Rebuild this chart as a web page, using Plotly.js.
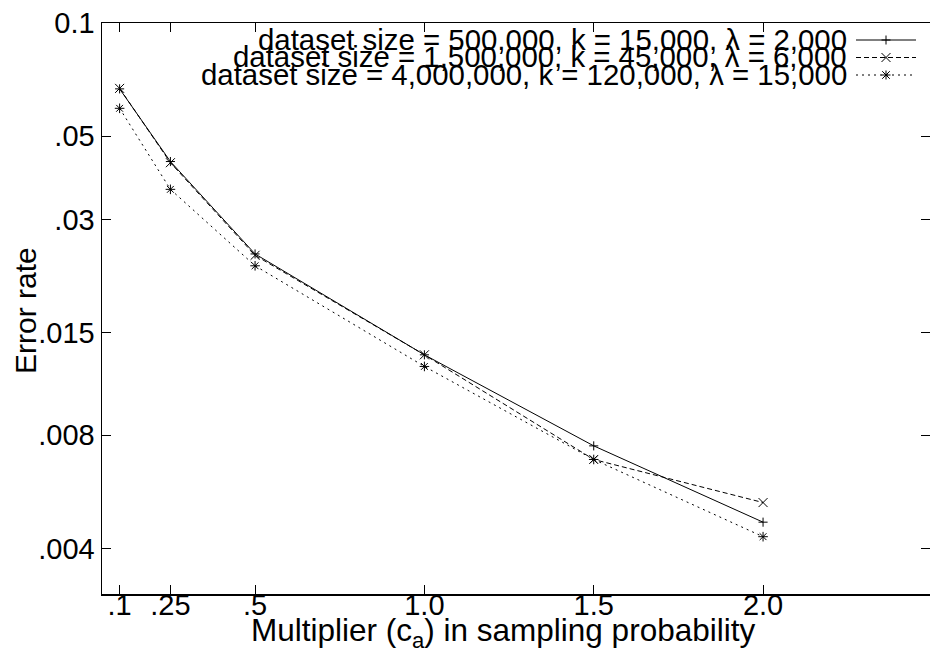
<!DOCTYPE html>
<html>
<head>
<meta charset="utf-8">
<script src="https://cdn.plot.ly/plotly-3.0.1.min.js"></script>
<style>
  html, body { margin: 0; padding: 0; background: #ffffff; }
  #chart { width: 930px; height: 660px; }
</style>
</head>
<body>
<div id="chart"></div>
<script>
// Sampling multiplier c_a on the x axis
const multipliers = [0.1, 0.25, 0.5, 1.0, 1.5, 2.0];

// Error rate for each dataset configuration
const errSmall  = [0.0668, 0.0428, 0.0243, 0.0131, 0.0075, 0.0047];
const errMedium = [0.0670, 0.0425, 0.0241, 0.0131, 0.0069, 0.0053];
const errLarge  = [0.0593, 0.0361, 0.0226, 0.0122, 0.0069, 0.0043];

const seriesNames = [
  'dataset size = 500,000, k = 15,000, \u03bb = 2,000',
  'dataset size = 1,500,000, k = 45,000, \u03bb = 6,000',
  'dataset size = 4,000,000, k = 120,000, \u03bb = 15,000'
];

const xTickVals = [0.1, 0.25, 0.5, 1.0, 1.5, 2.0];
const xTickText = ['.1', '.25', '.5', '1.0', '1.5', '2.0'];
const yTickVals = [0.1, 0.05, 0.03, 0.015, 0.008, 0.004];
const yTickText = ['0.1', '.05', '.03', '.015', '.008', '.004'];

const FONT = 'Liberation Sans, Arial, Helvetica, sans-serif';
const INK = '#000000';

// plot area geometry in pixels (used only for key and title placement)
const W = 930, H = 660;
const M = { l: 102, r: 0, t: 23, b: 66 };
const plotW = W - M.l - M.r, plotH = H - M.t - M.b;
const px2x = px => (px - M.l) / plotW;
const py2y = py => 1 - (py - M.t) / plotH;

const styles = [
  { dash: 'solid',   symbol: 'cross-thin', size: 6.5 },
  { dash: '5px,3px', symbol: 'x-thin',     size: 9 },
  { dash: '2px,4px', symbol: 'asterisk',   size: 8 }
];
const seriesValues = [errSmall, errMedium, errLarge];

const traces = seriesValues.map((vals, i) => ({
  type: 'scatter',
  mode: 'lines+markers',
  x: multipliers,
  y: vals,
  name: seriesNames[i],
  showlegend: false,
  line: { color: INK, width: 1, dash: styles[i].dash },
  marker: {
    symbol: styles[i].symbol,
    size: styles[i].size,
    color: INK,
    line: { color: INK, width: 1 }
  },
  hoverinfo: 'x+y'
}));

// key: text right-aligned, sample line with a marker to its right
const keyRowsPx = [40, 57.5, 75];
const keyLineX0 = px2x(856), keyLineX1 = px2x(916), keyMarkX = px2x(886);
const markPaths = [
  'M-4.5,0L4.5,0M0,-4.5L0,4.5',
  'M-4.5,-4.5L4.5,4.5M-4.5,4.5L4.5,-4.5',
  'M-4.5,0L4.5,0M0,-4.5L0,4.5M-3.8,-3.8L3.8,3.8M-3.8,3.8L3.8,-3.8'
];

const shapes = [];
const annotations = [];
keyRowsPx.forEach((py, i) => {
  const y = py2y(py);
  shapes.push({
    type: 'line', xref: 'paper', yref: 'paper',
    x0: keyLineX0, x1: keyLineX1, y0: y, y1: y,
    line: { color: INK, width: 1, dash: styles[i].dash }
  });
  shapes.push({
    type: 'path', xref: 'paper', yref: 'paper',
    xsizemode: 'pixel', ysizemode: 'pixel',
    xanchor: keyMarkX, yanchor: y,
    path: markPaths[i],
    line: { color: INK, width: 1 }
  });
  annotations.push({
    xref: 'paper', yref: 'paper',
    x: px2x(849), y: py2y(py - 0.5),
    xanchor: 'right', yanchor: 'middle',
    text: seriesNames[i],
    showarrow: false,
    font: { family: FONT, size: 29.4, color: INK }
  });
});

// axis titles
annotations.push({
  xref: 'paper', yref: 'paper',
  x: px2x(25), y: py2y(311),
  xanchor: 'center', yanchor: 'middle',
  textangle: -90,
  text: 'Error rate',
  showarrow: false,
  font: { family: FONT, size: 30, color: INK }
});
annotations.push({
  xref: 'paper', yref: 'paper',
  x: px2x(503), y: py2y(632),
  xanchor: 'center', yanchor: 'middle',
  text: 'Multiplier (c<sub>a</sub>) in sampling probability',
  showarrow: false,
  font: { family: FONT, size: 31.5, color: INK }
});

const axisCommon = {
  showline: true,
  linecolor: INK,
  linewidth: 1.5,
  mirror: 'ticks',
  ticks: 'inside',
  ticklen: 9,
  tickwidth: 1,
  tickcolor: INK,
  showgrid: false,
  zeroline: false,
  tickfont: { family: FONT, size: 29, color: INK },
  tickmode: 'array'
};

const layout = {
  width: W,
  height: H,
  margin: { l: M.l, r: M.r, t: M.t, b: M.b, pad: 0 },
  paper_bgcolor: '#ffffff',
  plot_bgcolor: '#ffffff',
  showlegend: false,
  font: { family: FONT, color: INK },
  xaxis: Object.assign({}, axisCommon, {
    type: 'linear',
    range: [0.048, 2.493],
    tickvals: xTickVals,
    ticktext: xTickText,
    ticklabelstandoff: -15
  }),
  yaxis: Object.assign({}, axisCommon, {
    type: 'log',
    range: [-2.519, -1],
    tickvals: yTickVals,
    ticktext: yTickText
  }),
  shapes: shapes,
  annotations: annotations
};

Plotly.newPlot('chart', traces, layout, { displayModeBar: false, staticPlot: true });
</script>
</body>
</html>
